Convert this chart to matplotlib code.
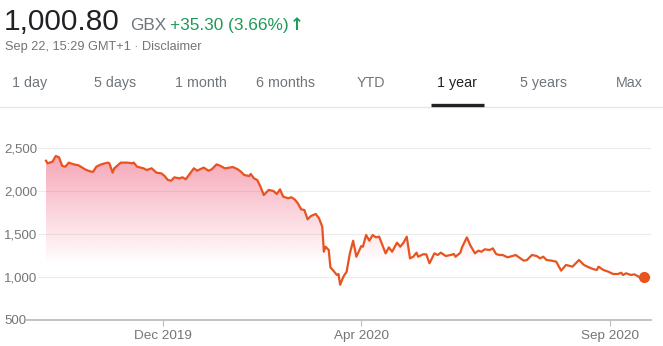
import matplotlib
matplotlib.use("Agg")
import matplotlib.pyplot as plt
import matplotlib.dates as mdates
from matplotlib.lines import Line2D
from matplotlib.patches import Polygon
import numpy as np
import pandas as pd

plt.rcParams['font.family'] = ['Liberation Sans', 'DejaVu Sans']

# ---------------- data ----------------
dates = [
    '2019-09-20', '2019-09-21', '2019-09-24', '2019-09-26', '2019-09-28', '2019-09-30', '2019-10-02', '2019-10-04', '2019-10-07', '2019-10-10',
    '2019-10-14', '2019-10-16', '2019-10-18', '2019-10-19', '2019-10-21', '2019-10-24', '2019-10-28', '2019-10-29', '2019-10-31', '2019-11-01',
    '2019-11-05', '2019-11-09', '2019-11-12', '2019-11-13', '2019-11-15', '2019-11-19', '2019-11-21', '2019-11-24', '2019-11-27', '2019-11-30',
    '2019-12-02', '2019-12-04', '2019-12-06', '2019-12-08', '2019-12-11', '2019-12-13', '2019-12-15', '2019-12-18', '2019-12-20', '2019-12-22',
    '2019-12-25', '2019-12-26', '2019-12-29', '2019-12-31', '2020-01-03', '2020-01-05', '2020-01-08', '2020-01-11', '2020-01-13', '2020-01-16',
    '2020-01-18', '2020-01-20', '2020-01-23', '2020-01-24', '2020-01-26', '2020-01-28', '2020-01-30', '2020-02-01', '2020-02-04', '2020-02-07',
    '2020-02-09', '2020-02-11', '2020-02-13', '2020-02-16', '2020-02-18', '2020-02-20', '2020-02-22', '2020-02-24', '2020-02-26', '2020-02-28',
    '2020-03-01', '2020-03-04', '2020-03-06', '2020-03-08', '2020-03-09', '2020-03-10', '2020-03-12', '2020-03-13', '2020-03-15', '2020-03-17',
    '2020-03-18', '2020-03-19', '2020-03-21', '2020-03-23', '2020-03-25', '2020-03-27', '2020-03-29', '2020-04-01', '2020-04-02', '2020-04-04',
    '2020-04-06', '2020-04-08', '2020-04-10', '2020-04-12', '2020-04-14', '2020-04-16', '2020-04-18', '2020-04-20', '2020-04-23', '2020-04-25',
    '2020-04-27', '2020-04-29', '2020-05-01', '2020-05-03', '2020-05-05', '2020-05-06', '2020-05-09', '2020-05-11', '2020-05-13', '2020-05-16',
    '2020-05-18', '2020-05-20', '2020-05-23', '2020-05-26', '2020-05-28', '2020-05-29', '2020-06-01', '2020-06-02', '2020-06-05', '2020-06-07',
    '2020-06-10', '2020-06-12', '2020-06-14', '2020-06-16', '2020-06-19', '2020-06-21', '2020-06-23', '2020-06-25', '2020-06-27', '2020-06-30',
    '2020-07-03', '2020-07-05', '2020-07-07', '2020-07-10', '2020-07-12', '2020-07-15', '2020-07-18', '2020-07-20', '2020-07-22', '2020-07-24',
    '2020-07-27', '2020-07-30', '2020-08-02', '2020-08-05', '2020-08-09', '2020-08-13', '2020-08-16', '2020-08-19', '2020-08-22', '2020-08-24',
    '2020-08-25', '2020-08-28', '2020-08-31', '2020-09-03', '2020-09-06', '2020-09-08', '2020-09-09', '2020-09-11', '2020-09-14', '2020-09-16',
    '2020-09-18', '2020-09-20', '2020-09-22',
]
prices = [
    2352, 2322, 2341, 2407, 2392, 2291, 2283, 2330, 2310, 2299,
    2252, 2236, 2224, 2224, 2283, 2310, 2330, 2322, 2213, 2264,
    2330, 2330, 2322, 2330, 2283, 2264, 2244, 2264, 2213, 2205,
    2174, 2128, 2120, 2159, 2147, 2159, 2136, 2213, 2264, 2236,
    2264, 2272, 2236, 2252, 2310, 2295, 2264, 2272, 2279, 2252,
    2224, 2186, 2174, 2198, 2147, 2128, 2050, 1953, 2012, 2000,
    1965, 2019, 1934, 1916, 1927, 1903, 1857, 1787, 1779, 1671,
    1709, 1733, 1683, 1585, 1294, 1352, 1314, 1113, 1070, 1023,
    1035, 910, 1003, 1062, 1275, 1422, 1236, 1360, 1352, 1488,
    1422, 1488, 1461, 1469, 1372, 1275, 1345, 1294, 1399, 1352,
    1399, 1469, 1217, 1236, 1283, 1236, 1264, 1264, 1159, 1275,
    1256, 1283, 1244, 1256, 1267, 1236, 1283, 1345, 1461, 1372,
    1275, 1306, 1294, 1322, 1314, 1333, 1267, 1256, 1256, 1229,
    1244, 1256, 1229, 1190, 1198, 1256, 1244, 1217, 1236, 1198,
    1190, 1178, 1074, 1140, 1120, 1198, 1140, 1113, 1090, 1082,
    1120, 1082, 1062, 1035, 1035, 1050, 1023, 1043, 1023, 1031,
    1012, 985, 1000.8,
]
y_ticks = [500, 1000, 1500, 2000, 2500]
y_tick_labels = ['500', '1,000', '1,500', '2,000', '2,500']
x_tick_dates = ['2019-12-01', '2020-04-01', '2020-09-01']
x_tick_labels = ['Dec 2019', 'Apr 2020', 'Sep 2020']
tabs = ['1 day', '5 days', '1 month', '6 months', 'YTD', '1 year', '5 years', 'Max']
tab_x = [30, 115, 201, 286, 371, 457, 543, 629]

# ---------------- figure ----------------
W, H = 663, 346
fig = plt.figure(figsize=(W / 100, H / 100), dpi=100)
fig.patch.set_facecolor('white')


def fx(x):
    return x / W


def fy(y):
    return 1 - y / H


GRAY = '#70757a'
DARK = '#202124'
GREEN = '#1e9a55'
LINE = '#e8531f'

# header
fig.text(fx(4), fy(30), '1,000.80', fontsize=21.5, color=DARK, va='baseline', ha='left')
fig.text(fx(130), fy(30), 'GBX', fontsize=12.4, color=GRAY, va='baseline', ha='left')
fig.text(fx(170), fy(30), '+35.30 (3.66%)', fontsize=12.4, color=GREEN, va='baseline', ha='left')
fig.text(fx(290), fy(29.5), '\u2191', fontsize=12, color=GREEN, va='baseline', ha='left',
         fontweight='bold', family=['DejaVu Sans'])
fig.text(fx(5), fy(50), 'Sep 22, 15:29 GMT+1 \u00b7 Disclaimer', fontsize=9.2, color=GRAY,
         va='baseline', ha='left')

# tabs
for lab, xc in zip(tabs, tab_x):
    fig.text(fx(xc), fy(83), lab, fontsize=10.3, ha='center', va='center',
             color=DARK if lab == '1 year' else GRAY)
fig.add_artist(Line2D([0, 1], [fy(106.5), fy(106.5)], transform=fig.transFigure,
                      color='#e6e6e6', lw=1.0))
fig.add_artist(Line2D([fx(431), fx(484)], [fy(105), fy(105)], transform=fig.transFigure,
                      color=DARK, lw=2.4, solid_capstyle='butt'))

# ---------------- axes ----------------
x_dt = pd.to_datetime(dates)
xnum = mdates.date2num(x_dt)
yv = np.array(prices, dtype=float)

anchor = mdates.date2num(pd.Timestamp('2019-12-01'))
left_px, right_px = 38, 651
ppd = 1.625
xlim = (anchor + (left_px - 163) / ppd, anchor + (right_px - 163) / ppd)
ylim = (500, 2700)
ax_bottom_px = 320
ax_top_px = 148 - (ylim[1] - 2500) * 43 / 500

ax = fig.add_axes([fx(left_px), 1 - ax_bottom_px / H, (right_px - left_px) / W,
                   (ax_bottom_px - ax_top_px) / H])
ax.set_xlim(*xlim)
ax.set_ylim(*ylim)
for s in ax.spines.values():
    s.set_visible(False)

# grid lines
for t in y_ticks[1:]:
    ax.axhline(t, color='#ececec', lw=0.8, zorder=0)

# gradient fill under line
ny = 400
ys = np.linspace(ylim[0], ylim[1], ny)
alpha = np.clip((ys - 1150) / (2400 - 1150), 0, 1) * 0.47
rgba = np.zeros((ny, 2, 4))
rgba[..., 0] = 0.93
rgba[..., 1] = 0.26
rgba[..., 2] = 0.40
rgba[..., 3] = alpha[:, None]
im = ax.imshow(rgba, extent=[xnum[0], xnum[-1], ylim[0], ylim[1]], origin='lower',
               aspect='auto', interpolation='bilinear', zorder=1)
poly_pts = np.column_stack([np.r_[xnum, xnum[::-1]], np.r_[yv, np.full(len(yv), ylim[0])]])
clip = Polygon(poly_pts, closed=True, transform=ax.transData, facecolor='none', edgecolor='none')
ax.add_patch(clip)
im.set_clip_path(clip)

ax.plot(xnum, yv, color=LINE, lw=1.6, zorder=3, solid_joinstyle='round')
ax.plot(xnum[-1:], yv[-1:], 'o', color=LINE, ms=7, zorder=4)

# ticks
ax.set_yticks(y_ticks)
ax.set_yticklabels(y_tick_labels)
ax.tick_params(axis='y', length=0, pad=(left_px - 4) * 0.72, labelsize=9.5, labelcolor='#757575')
for lab in ax.get_yticklabels():
    lab.set_horizontalalignment('left')

xt = mdates.date2num(pd.to_datetime(x_tick_dates))
ax.set_xticks(xt)
ax.set_xticklabels(x_tick_labels)
ax.tick_params(axis='x', length=4, width=0.8, color='#bdbdbd', pad=3, labelsize=9.7,
               labelcolor='#757575')

# baseline axis
fig.add_artist(Line2D([fx(27), fx(651)], [fy(320), fy(320)], transform=fig.transFigure,
                      color='#bdbdbd', lw=1.3))

fig.savefig('out.png', dpi=100, facecolor='white')
